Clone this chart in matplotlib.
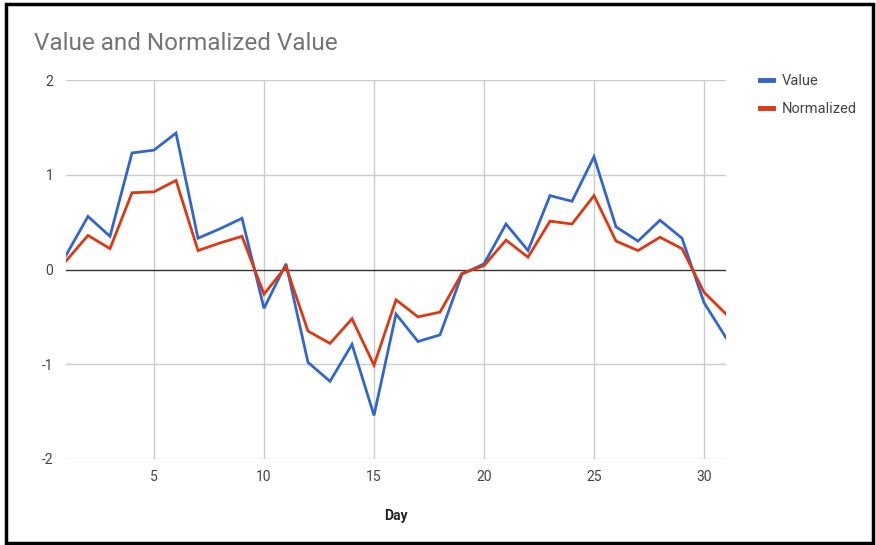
import matplotlib
matplotlib.use("Agg")
import matplotlib.pyplot as plt
from matplotlib.patches import Rectangle
from matplotlib.lines import Line2D

plt.rcParams['font.family'] = ['Roboto', 'DejaVu Sans']

days = list(range(1, 32))
value = [0.15, 0.56, 0.35, 1.23, 1.26, 1.44, 0.33, 0.43, 0.54, -0.41,
         0.06, -0.98, -1.18, -0.79, -1.54, -0.47, -0.76, -0.69, -0.05, 0.06,
         0.48, 0.20, 0.78, 0.72, 1.19, 0.45, 0.30, 0.52, 0.33, -0.35, -0.72]
normalized = [0.09, 0.36, 0.22, 0.81, 0.82, 0.94, 0.20, 0.28, 0.35, -0.26,
              0.03, -0.65, -0.78, -0.52, -1.01, -0.32, -0.50, -0.45, -0.04, 0.04,
              0.31, 0.13, 0.51, 0.48, 0.78, 0.30, 0.20, 0.34, 0.22, -0.24, -0.47]
x_ticks = [5, 10, 15, 20, 25, 30]
y_ticks = [-2, -1, 0, 1, 2]

W, H = 876, 545
fig = plt.figure(figsize=(W / 100, H / 100), dpi=100)
ax = fig.add_axes([66 / W, 1 - 459 / H, (726 - 66) / W, (459 - 80) / H])

for t in x_ticks:
    ax.axvline(t, color='#cccccc', lw=1.0, zorder=0)
for t in y_ticks:
    if t == 0:
        ax.axhline(t, color='#333333', lw=1.0, zorder=1)
    else:
        ax.axhline(t, color='#cccccc', lw=1.0, zorder=0)

ax.plot(days, value, color='#3366cc', lw=2.0, zorder=3, solid_joinstyle='miter')
ax.plot(days, normalized, color='#dc3912', lw=2.0, zorder=3, solid_joinstyle='miter')

ax.set_xlim(1, 31)
ax.set_ylim(-2, 2)
ax.set_xticks(x_ticks)
ax.set_yticks(y_ticks)
ax.set_yticklabels([str(t) for t in y_ticks])
for s in ax.spines.values():
    s.set_visible(False)
ax.tick_params(length=0, colors='#444444', labelsize=10)
ax.tick_params(axis='y', pad=9)
ax.tick_params(axis='x', pad=8)
ax.set_xlabel('Day', fontsize=10, fontweight='bold', color='#222222', labelpad=18)

fig.text(34 / W, 1 - 43 / H, 'Value and Normalized Value', fontsize=17.5,
         color='#757575', ha='left', va='center')

handles = [Line2D([], [], color='#3366cc', lw=3.5),
           Line2D([], [], color='#dc3912', lw=3.5)]
fig.legend(handles, ['Value', 'Normalized'], loc='upper left',
           bbox_to_anchor=(747 / W, 1 - 61 / H), frameon=False,
           fontsize=10.5, handlelength=0.85, handletextpad=0.65,
           labelspacing=0.95, labelcolor='#444444')

fig.patches.append(Rectangle((6 / W, 2 / H), (873 - 6) / W, (541 - 2) / H,
                             transform=fig.transFigure, fill=False,
                             edgecolor='black', lw=2.5))

fig.savefig('out.png', dpi=100)
